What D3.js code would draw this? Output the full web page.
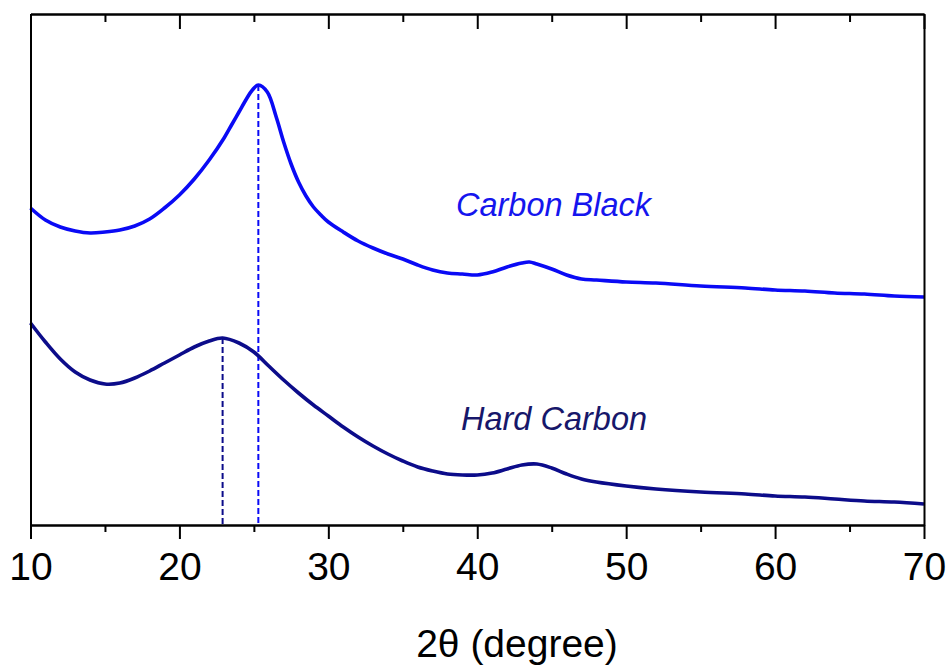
<!DOCTYPE html>
<html>
<head>
<meta charset="utf-8">
<script src="https://cdn.jsdelivr.net/npm/d3@7"></script>
<style>
  html, body { margin: 0; padding: 0; background: #fff; }
  svg { display: block; font-family: "Liberation Sans", Arial, sans-serif; }
</style>
</head>
<body>
<svg id="chart" width="951" height="668"></svg>
<script>
// XRD patterns, intensity in arbitrary units (offset traces)
const cbAngle = [10, 11, 12, 13, 14, 15, 16, 17, 18, 19, 20, 21, 22, 23, 23.5, 24, 24.5, 24.9, 25.3, 25.9, 26.5, 27, 27.5, 28, 28.5, 29, 29.5, 30, 31, 32, 33, 34, 35, 36, 37, 38, 39, 40, 41, 42, 43, 43.5, 44, 45, 46, 47, 48, 50, 52, 55, 58, 60, 62, 64, 66, 68, 70];
const cbIntensity = [317, 305, 298, 294, 292, 293, 295, 299, 306, 317, 330, 346, 365, 387, 400, 413, 426, 435, 440, 433, 408, 383, 361, 343, 329, 318, 310, 303, 293, 284, 277, 271, 266, 260, 255, 252, 251, 250, 253, 258, 262, 263, 261, 256, 250, 246, 245, 243, 242, 239, 237, 235, 234, 232, 231, 229, 228];

const hcAngle = [10, 11, 12, 13, 14, 15, 16, 17, 18, 19, 20, 21, 22, 22.9, 24, 25, 26, 27, 28, 29, 30, 31, 32, 33, 34, 35, 36, 37, 38, 39, 40, 41, 42, 43, 44, 45, 46, 47, 48, 50, 52, 55, 58, 60, 62, 64, 66, 68, 70];
const hcIntensity = [202, 183, 166, 153, 145, 141, 142, 147, 154, 162, 170, 178, 184, 187, 182, 173, 159, 145, 132, 120, 109, 98, 88, 79, 71, 64, 58, 54, 51, 50, 50, 52, 56, 60, 61, 57, 51, 46, 43, 39, 36, 33, 31, 29, 28, 26, 24, 23, 21];

// peak positions marked with dashed drop lines
const peakAngle = [25.3, 22.9];
const peakIntensity = [440, 187];

const seriesNames = ["Carbon Black", "Hard Carbon"];
const seriesColors = ["#0a0af5", "#0c0c8a"];
const labelColors = ["#1515ee", "#17176a"];

const majorTicks = [10, 20, 30, 40, 50, 60, 70];
const minorTicks = [15, 25, 35, 45, 55, 65];

const svg = d3.select("#chart");
const margin = { left: 30.5, right: 27, top: 14, bottom: 143 };
const W = 951, H = 668;
const x0 = margin.left, x1 = W - margin.right;
const y0 = H - margin.bottom, y1 = margin.top;

const x = d3.scaleLinear().domain([10, 70]).range([x0, x1]);
const y = d3.scaleLinear().domain([0, 511]).range([y0, y1]);

const series = [
  { angle: cbAngle, val: cbIntensity },
  { angle: hcAngle, val: hcIntensity }
];

const line = d3.line()
  .x(d => x(d[0]))
  .y(d => y(d[1]))
  .curve(d3.curveCatmullRom.alpha(0.5));

// dashed peak markers (drawn beneath the traces)
svg.append("g").selectAll("line")
  .data(peakAngle)
  .join("line")
  .attr("x1", d => x(d)).attr("x2", d => x(d))
  .attr("y1", (d, i) => y(peakIntensity[i]))
  .attr("y2", y(0))
  .attr("stroke", (d, i) => seriesColors[i])
  .attr("stroke-width", 2)
  .attr("stroke-dasharray", "6,3");

// traces
svg.append("g").selectAll("path")
  .data(series)
  .join("path")
  .attr("d", s => line(s.angle.map((a, i) => [a, s.val[i]])))
  .attr("fill", "none")
  .attr("stroke", (s, i) => seriesColors[i])
  .attr("stroke-width", 3.6)
  .attr("stroke-linejoin", "round");

// series labels
const labelPos = [[456, 216], [461, 430]];
svg.append("g").selectAll("text")
  .data(seriesNames)
  .join("text")
  .attr("x", (d, i) => labelPos[i][0])
  .attr("y", (d, i) => labelPos[i][1])
  .attr("fill", (d, i) => labelColors[i])
  .attr("font-size", 32.5)
  .attr("font-style", "italic")
  .text(d => d);

// axes
const axisStyle = g => {
  g.select(".domain").attr("stroke", "#000").attr("stroke-width", 2);
  g.selectAll(".tick line").attr("stroke", "#000").attr("stroke-width", 2);
};

// bottom: major ticks with labels
svg.append("g")
  .attr("transform", `translate(0,${y0})`)
  .call(d3.axisBottom(x).tickValues(majorTicks).tickSize(14).tickSizeOuter(0).tickFormat(d3.format("d")))
  .call(axisStyle)
  .call(g => g.selectAll(".tick text")
    .attr("y", 55).attr("dy", 0)
    .attr("font-size", 39)
    .attr("font-family", "Liberation Sans, Arial, sans-serif")
    .attr("fill", "#000"));

// bottom: minor ticks
svg.append("g")
  .attr("transform", `translate(0,${y0})`)
  .call(d3.axisBottom(x).tickValues(minorTicks).tickSize(7).tickSizeOuter(0).tickFormat(""))
  .call(axisStyle);

// top: inward ticks
svg.append("g")
  .attr("transform", `translate(0,${y1})`)
  .call(d3.axisBottom(x).tickValues(majorTicks).tickSize(15).tickSizeOuter(0).tickFormat(""))
  .call(axisStyle);
svg.append("g")
  .attr("transform", `translate(0,${y1})`)
  .call(d3.axisBottom(x).tickValues(minorTicks).tickSize(8).tickSizeOuter(0).tickFormat(""))
  .call(axisStyle);

// left and right frame lines (no ticks)
svg.append("g")
  .attr("transform", `translate(${x0},0)`)
  .call(d3.axisLeft(y).tickValues([]).tickSizeOuter(0))
  .call(axisStyle);
svg.append("g")
  .attr("transform", `translate(${x1},0)`)
  .call(d3.axisRight(y).tickValues([]).tickSizeOuter(0))
  .call(axisStyle);

// axis title
svg.append("text")
  .attr("x", 517)
  .attr("y", 657)
  .attr("text-anchor", "middle")
  .attr("font-size", 39)
  .attr("fill", "#000")
  .text("2θ (degree)");
</script>
</body>
</html>
